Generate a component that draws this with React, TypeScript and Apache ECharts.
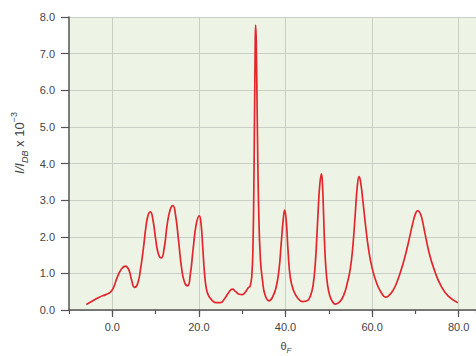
import React, { useEffect, useRef } from "react";
import * as echarts from "echarts";

const xTickLabels = [0, 20, 40, 60, 80];

const thetaF = [
  -6, -4.5, -3, -1.5, -0.5, 0.3, 1, 2, 3, 3.8, 4.5, 5.1, 5.8, 6.5, 7.2, 7.8, 8.3, 8.8, 9.4, 10.0,
  10.6, 11.3, 12.0, 12.7, 13.4, 14.0, 14.6, 15.3, 16.0, 16.7, 17.4, 18.0, 18.7, 19.4, 20.1, 20.5,
  20.9, 21.3, 21.7, 22.2, 23.0, 24.0, 25.0, 26.0, 27.0, 27.7, 28.5, 29.3, 30.0, 30.8, 31.5, 31.8, 32.2,
  32.5, 32.75, 33.0, 33.1, 33.25, 33.5, 33.8, 34.2, 34.7, 35.3, 36.2, 37.0, 37.8, 38.5, 39.0, 39.5,
  39.8, 40.2, 40.6, 41.1, 41.8, 42.8, 44.0, 45.0, 45.8, 46.4, 46.9, 47.2, 47.5, 47.9, 48.3, 48.55,
  48.8, 49.0, 49.3, 49.7, 50.2, 50.8, 51.5, 52.5, 53.5, 54.3, 55.0, 55.6, 56.1, 56.6, 57.0, 57.4,
  57.9, 58.5, 59.2, 60.0, 61.0, 62.0, 63.2, 64.1, 64.9, 65.7, 66.6, 67.6, 68.5, 69.5, 70.1, 70.5,
  70.9, 71.4, 72.2, 73.3, 74.5, 76.0, 77.6, 79.8,
];
const intensity = [
  0.15, 0.25, 0.35, 0.42, 0.48, 0.62, 0.85, 1.1, 1.2, 1.1, 0.8, 0.62, 0.7, 1.1, 1.7, 2.3, 2.6, 2.68, 2.45, 1.95,
  1.55, 1.42, 1.7, 2.35, 2.75, 2.85, 2.6, 1.9, 1.15, 0.75, 0.66, 0.95, 1.7, 2.35, 2.57, 2.35,
  1.7, 1.0, 0.6, 0.4, 0.27, 0.2, 0.2, 0.32, 0.5, 0.57, 0.5, 0.43, 0.42, 0.5, 0.62, 0.64, 0.9,
  1.8, 4.0, 7.2, 7.78, 7.3, 5.0, 2.8, 1.4, 0.8, 0.4, 0.25, 0.35, 0.6, 1.1, 1.8, 2.5,
  2.73, 2.4, 1.6, 0.9, 0.55, 0.33, 0.23, 0.25, 0.4, 0.7, 1.3, 1.9, 2.6, 3.4, 3.72, 3.4,
  2.6, 1.9, 1.2, 0.7, 0.4, 0.24, 0.16, 0.22, 0.42, 0.75, 1.15, 1.8, 2.6, 3.4, 3.64, 3.45,
  2.95, 2.3, 1.65, 1.15, 0.75, 0.5, 0.35, 0.42, 0.55, 0.75, 1.05, 1.46, 1.9, 2.42, 2.65, 2.71,
  2.68, 2.55, 2.1, 1.5, 1.05, 0.64, 0.38, 0.2,
];

export default function App() {
  const ref = useRef<HTMLDivElement>(null);
  useEffect(() => {
    if (!ref.current) return;
    const chart = echarts.init(ref.current, null, { renderer: "svg" });
    const font = "'Liberation Sans', Arial, sans-serif";
    const data = thetaF.map((x, i) => [x, intensity[i]]);
    const axisColor = "#555";
    const textColor = "#444444";
    chart.setOption({
      animation: false,
      backgroundColor: "#ffffff",
      grid: {
        left: 69,
        top: 17,
        bottom: 46,
        right: 0,
        show: true,
        backgroundColor: "#edf4e5",
        borderWidth: 0,
      },
      xAxis: [
        {
          type: "value",
          min: -10,
          max: 84,
          interval: 10,
          axisLine: { show: true, onZero: false, lineStyle: { color: axisColor, width: 1.5 } },
          axisTick: { show: true, customValues: xTickLabels, length: 7, lineStyle: { color: axisColor, width: 1.2 } },
          axisLabel: {
            customValues: xTickLabels,
            formatter: (v: number) => v.toFixed(1),
            color: textColor,
            fontSize: 11,
            fontFamily: font,
            margin: 11,
          },
          splitLine: { show: true, lineStyle: { color: "#c9cec6", width: 1 } },
        },
        {
          type: "value",
          min: -10,
          max: 84,
          interval: 10,
          position: "bottom",
          axisLine: { show: false, onZero: false },
          axisTick: { show: true, length: 4, lineStyle: { color: axisColor, width: 1.2 } },
          axisLabel: { show: false },
          splitLine: { show: false },
        },
      ],
      yAxis: {
        type: "value",
        min: 0,
        max: 8,
        interval: 1,
        axisLine: { show: true, onZero: false, lineStyle: { color: axisColor, width: 1.5 } },
        axisTick: { show: true, length: 8, lineStyle: { color: axisColor, width: 1.2 } },
        axisLabel: {
          formatter: (v: number) => v.toFixed(1),
          color: textColor,
          fontSize: 11,
          fontFamily: font,
          margin: 14,
        },
        splitLine: { show: true, lineStyle: { color: "#c9cec6", width: 1 } },
      },
      graphic: [
        {
          type: "text",
          x: 19,
          y: 143,
          rotation: Math.PI / 2,
          style: {
            text: "{i|I/I}{sub|DB}{n| x 10}{sup|−3}",
            align: "center",
            verticalAlign: "middle",
            rich: {
              i: { fontSize: 13, fontStyle: "italic", fontFamily: font, fill: textColor, lineHeight: 20, verticalAlign: "middle" },
              sub: { fontSize: 9, fontStyle: "italic", fontFamily: font, fill: textColor, lineHeight: 20, verticalAlign: "bottom" },
              n: { fontSize: 13, fontFamily: font, fill: textColor, lineHeight: 20, verticalAlign: "middle" },
              sup: { fontSize: 9, fontFamily: font, fill: textColor, lineHeight: 20, verticalAlign: "top" },
            },
          },
        },
        {
          type: "text",
          x: 286,
          y: 346,
          style: {
            text: "{t|θ}{sub|F}",
            align: "center",
            verticalAlign: "middle",
            rich: {
              t: { fontSize: 11, fontFamily: font, fill: textColor, lineHeight: 16, verticalAlign: "middle" },
              sub: { fontSize: 8, fontStyle: "italic", fontFamily: font, fill: textColor, lineHeight: 16, verticalAlign: "bottom" },
            },
          },
        },
      ],
      series: [
        {
          type: "line",
          data,
          showSymbol: false,
          smooth: 0.5,
          lineStyle: { color: "#e3262d", width: 1.7 },
          xAxisIndex: 0,
        },
      ],
    });
    return () => chart.dispose();
  }, []);
  return <div ref={ref} style={{ width: 476, height: 356, position: "absolute", left: 0, top: 0 }} />;
}
